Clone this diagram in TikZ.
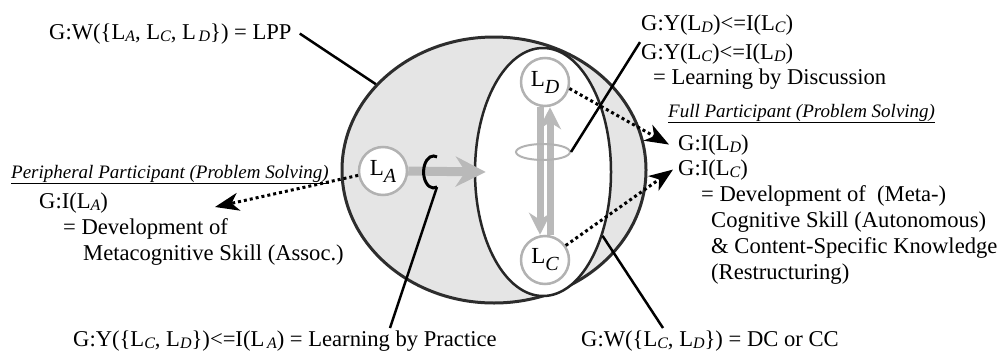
\documentclass[tikz,border=0pt]{standalone}
\usepackage{fontspec}
\setmainfont{Liberation Serif}
\usetikzlibrary{arrows.meta}
\usetikzlibrary{shapes.geometric}

\newcommand{\Ls}[1]{L\raisebox{-2pt}{\fontsize{16}{16}\selectfont\itshape #1}}
\newcommand{\Lc}[1]{L\raisebox{-7pt}{\fontsize{20}{20}\selectfont\itshape #1}}

\tikzset{
	txt/.style={anchor=base west, inner sep=1pt, font=\fontsize{22.6}{26}\selectfont},
	role/.style={anchor=base west, inner sep=1pt, font=\fontsize{19}{22}\selectfont\itshape},
	member/.style={circle, draw=gray!60, fill=white, line width=2.5pt,
		minimum size=48pt, inner sep=0pt, font=\fontsize{23}{26}\selectfont},
	pointer/.style={black, line width=2.5pt},
	gaze/.style={black, line width=3pt, dash pattern=on 3pt off 3pt,
		-{Stealth[length=24pt,width=18pt,inset=7pt]}},
	flow/.style={gray!55, line width=7pt, -{Stealth[length=22pt,width=22pt]}}
}

\begin{document}
\begin{tikzpicture}[x=1pt,y=-1pt]
	\useasboundingbox (0,0) rectangle (1006,351);
	%% groups
	\node[ellipse, draw=gray!35!black, fill=gray!20, line width=3pt,
		minimum width=304pt, minimum height=266pt] (lpp) at (494,170) {};
	\node[ellipse, draw=black!85, fill=white, line width=2.5pt,
		minimum width=136pt, minimum height=248pt] (dc) at (543,172) {};
	%% members
	\node[member] (LA) at (383,171) {\Lc{A}};
	\node[member] (LD) at (545,82) {\Lc{D}};
	\node[member] (LC) at (545,260) {\Lc{C}};
	%% learning arrows
	\draw[flow, line width=9pt, -{Stealth[length=30pt,width=30pt]}] (LA.east) -- ([xshift=12pt]dc.west);
	\draw[flow] ([xshift=-5pt]LD.south) -- ([xshift=-5pt]LC.north);
	\draw[flow] ([xshift=5pt]LC.north) -- ([xshift=5pt]LD.south);
	\node[ellipse, draw=gray!60, line width=2pt, inner sep=0pt,
		minimum width=54pt, minimum height=16pt] (spin) at (543,152) {};
	\draw[line width=3pt] (437,187) arc[start angle=70, end angle=290, x radius=10, y radius=16];
	\coordinate (cB) at (437,187);
	%% texts
	\node[txt] (wlpp) at (48,39) {G:W(\{\Ls{A}, \Ls{C}, \Ls{\,D}\}) = LPP};
	\node[txt] (ydc) at (640,30) {G:Y(\Ls{D})<=I(\Ls{C})};
	\node[txt] (ycd) at (640,59) {G:Y(\Ls{C})<=I(\Ls{D})};
	\node[txt] (disc) at (652,84) {= Learning by Discussion};
	\node[role] (full) at (667,117) {\underline{Full Participant (Problem Solving)}};
	\node[txt] (gid) at (677,150) {G:I(\Ls{D})};
	\node[txt] (gic) at (677,175) {G:I(\Ls{C})};
	\node[txt] (devF) at (700,201) {= Development of~~(Meta-)};
	\node[txt] (cog) at (710,227) {Cognitive Skill (Autonomous)};
	\node[txt] (know) at (710,253) {\& Content-Specific Knowledge};
	\node[txt] (restr) at (710,279) {(Restructuring)};
	\node[role] (peri) at (10,178) {\underline{Peripheral Participant (Problem Solving)}};
	\node[txt] (gia) at (38,208) {G:I(\Ls{A})};
	\node[txt] (devA) at (62,234) {= Development of};
	\node[txt] (meta) at (82,260) {Metacognitive Skill (Assoc.)};
	\node[txt] (prac) at (72,346) {G:Y(\{\Ls{C}, \Ls{D}\})<=I(\Ls{\,A}) = Learning by Practice};
	\node[txt] (wdc) at (580,346) {G:W(\{\Ls{C}, \Ls{D}\}) = DC or CC};
	\coordinate (pracT) at (390,328);
	\coordinate (wdcT) at (663,328);
	\coordinate (tipA) at (215,207);
	%% pointers
	\draw[pointer] ([xshift=7pt]wlpp.east) -- (lpp.144);
	\draw[pointer] (spin.east) -- (ycd.north west);
	\draw[pointer] (cB) -- (pracT);
	\draw[pointer] (dc.-47) -- (wdcT);
	%% goals
	\draw[gaze] (LA.190) -- (tipA);
	\draw[gaze] (LD.-15) -- ([xshift=-8pt]gid.west);
	\draw[gaze] (LC.35) -- ([xshift=-4pt]gic.west);
\end{tikzpicture}
\end{document}
